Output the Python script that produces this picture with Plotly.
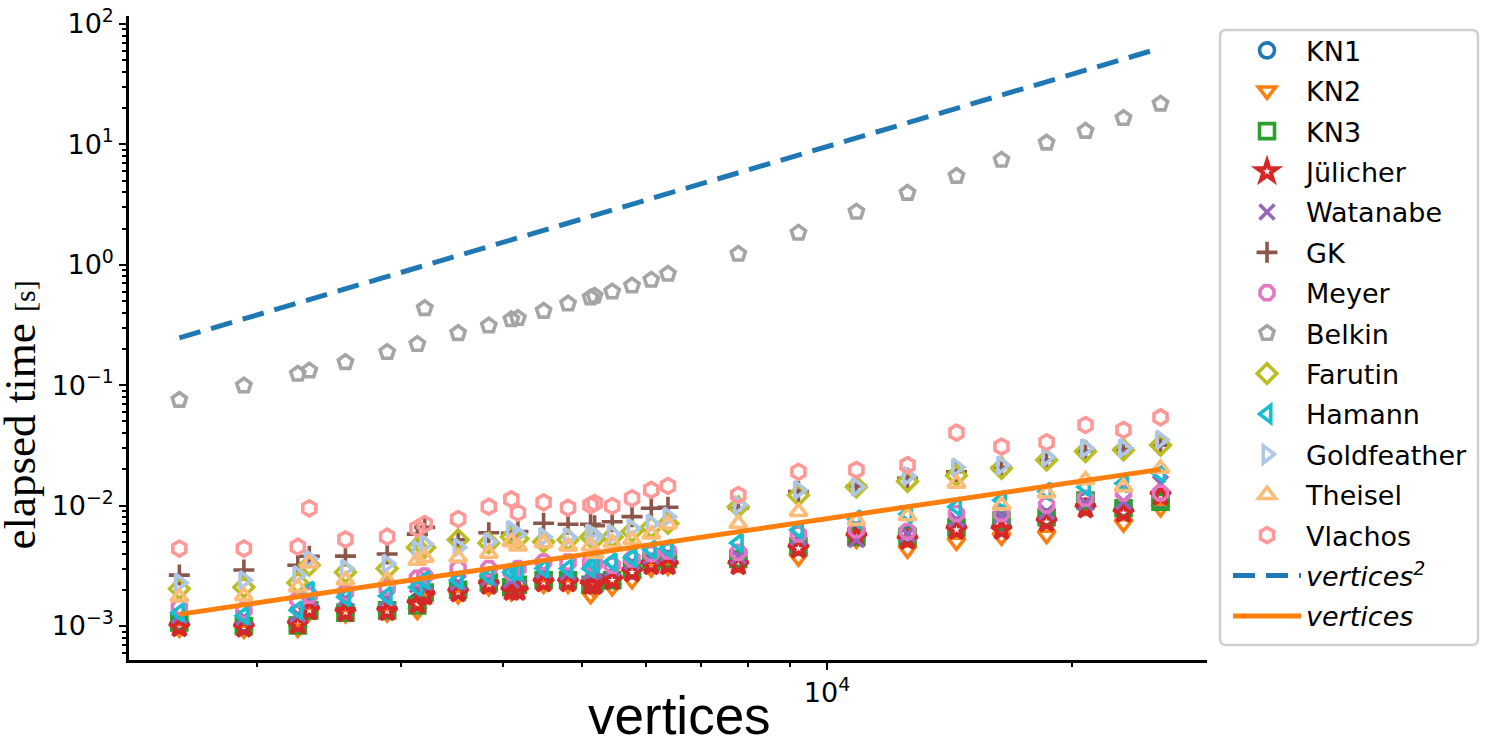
import plotly.graph_objects as go

# ---------------- data ----------------
vertices = [1606, 1927, 2244, 2318, 2567, 2888, 3145, 3211, 3529, 3848,
            4101, 4178, 4492, 4813, 5129, 5188, 5452, 5766, 6088, 6382,
            7784, 9225, 10866, 12553, 14414, 16368, 18590, 20750, 23100, 25645]

kn1 = [0.00108, 0.00105, 0.00105, 0.0014, 0.00135, 0.0014, 0.0016, 0.0019, 0.0020, 0.0023,
       0.0022, 0.0022, 0.0024, 0.0024, 0.0023, 0.0024, 0.0025, 0.0029, 0.0034, 0.0035,
       0.0036, 0.0046, 0.0057, 0.0057, 0.0066, 0.0072, 0.0078, 0.0110, 0.0095, 0.0110]
kn2 = [0.00095, 0.00093, 0.00095, 0.0013, 0.00125, 0.00127, 0.00133, 0.0017, 0.0018, 0.0021,
       0.0019, 0.0020, 0.0022, 0.0022, 0.0018, 0.0020, 0.0021, 0.0024, 0.0030, 0.0031,
       0.0033, 0.0037, 0.0052, 0.0043, 0.0050, 0.0055, 0.0057, 0.0098, 0.0071, 0.0095]
kn3 = [0.00107, 0.0010, 0.00101, 0.00135, 0.00129, 0.00135, 0.00148, 0.0019, 0.0020, 0.0023,
       0.0021, 0.0022, 0.0024, 0.0024, 0.0022, 0.0023, 0.0024, 0.0030, 0.0034, 0.0036,
       0.0036, 0.0046, 0.0055, 0.0055, 0.0066, 0.0075, 0.0080, 0.0110, 0.0095, 0.0108]
julicher = [0.00098, 0.00097, 0.00103, 0.00135, 0.0013, 0.00133, 0.00152, 0.0018, 0.0019, 0.0022,
            0.00196, 0.00196, 0.0023, 0.0023, 0.0022, 0.0022, 0.0024, 0.0028, 0.0032, 0.0032,
            0.0032, 0.0044, 0.0055, 0.0052, 0.0063, 0.0063, 0.0073, 0.0095, 0.0087, 0.0121]
watanabe = [0.00122, 0.00118, 0.00125, 0.0017, 0.0017, 0.0017, 0.0022, 0.0023, 0.0023, 0.0025,
            0.0024, 0.0026, 0.0029, 0.0028, 0.0028, 0.0029, 0.0030, 0.0034, 0.0038, 0.0040,
            0.0038, 0.0054, 0.0052, 0.0058, 0.0077, 0.0082, 0.0089, 0.0105, 0.0108, 0.0153]
gk = [0.00265, 0.00292, 0.0032, 0.0038, 0.00381, 0.00396, 0.0058, 0.0066, 0.00521, 0.00596,
      0.0059, 0.0061, 0.00713, 0.0070, 0.0070, 0.0068, 0.00735, 0.0081, 0.0095, 0.0097,
      0.0095, 0.0131, 0.01456, 0.0169, 0.0191, 0.0208, 0.0239, 0.0284, 0.0293, 0.0318]
meyer = [0.00143, 0.00135, 0.00166, 0.0018, 0.0019, 0.0021, 0.0025, 0.0026, 0.0030, 0.0030,
         0.0028, 0.0030, 0.0034, 0.0034, 0.0034, 0.0033, 0.0032, 0.0036, 0.0040, 0.0042,
         0.0041, 0.0058, 0.0063, 0.0061, 0.0086, 0.0086, 0.0101, 0.0115, 0.0127, 0.0127]
belkin = [0.0753, 0.0991, 0.124, 0.132, 0.155, 0.188, 0.219, 0.435, 0.270, 0.312,
          0.352, 0.360, 0.413, 0.475, 0.533, 0.551, 0.598, 0.670, 0.748, 0.839,
          1.23, 1.84, 2.75, 3.94, 5.46, 7.42, 10.3, 12.9, 16.5, 21.7]
farutin = [0.00204, 0.0021, 0.00229, 0.0032, 0.0028, 0.0030, 0.0045, 0.0045, 0.0052, 0.0049,
           0.0055, 0.0053, 0.0050, 0.0052, 0.0055, 0.0053, 0.0055, 0.0061, 0.0066, 0.0071,
           0.0098, 0.0122, 0.0143, 0.0159, 0.0178, 0.0204, 0.0239, 0.0281, 0.0290, 0.0318]
hamann = [0.00129, 0.00122, 0.00135, 0.00197, 0.00174, 0.00178, 0.0021, 0.0024, 0.0024, 0.0026,
          0.0028, 0.0028, 0.0030, 0.0030, 0.0030, 0.0033, 0.0034, 0.0037, 0.0043, 0.0044,
          0.0049, 0.0063, 0.0077, 0.0085, 0.0098, 0.0111, 0.0131, 0.0143, 0.0153, 0.0185]
goldfeather = [0.00229, 0.00241, 0.00265, 0.0036, 0.0030, 0.0033, 0.0043, 0.0048, 0.0045, 0.0050,
               0.0063, 0.0058, 0.0055, 0.0055, 0.0059, 0.0056, 0.0058, 0.0065, 0.0071, 0.0081,
               0.0101, 0.0135, 0.0143, 0.0176, 0.0208, 0.0216, 0.0253, 0.0300, 0.0300, 0.0353]
theisel = [0.00174, 0.00178, 0.0021, 0.00333, 0.0024, 0.0024, 0.0035, 0.0037, 0.0037, 0.0040,
           0.0050, 0.0046, 0.0049, 0.0046, 0.0046, 0.0040, 0.0049, 0.0052, 0.0058, 0.0070,
           0.0071, 0.0089, 0.0075, 0.0082, 0.0153, 0.0101, 0.0127, 0.0163, 0.0143, 0.0204]
vlachos = [0.0044, 0.0044, 0.00456, 0.0095, 0.00525, 0.00552, 0.00648, 0.00703, 0.00774, 0.0098,
           0.01128, 0.00873, 0.01064, 0.00961, 0.0101, 0.0105, 0.00993, 0.0115, 0.0135, 0.01456,
           0.01225, 0.0191, 0.0198, 0.0217, 0.0404, 0.0309, 0.0336, 0.0467, 0.0425, 0.0541]

# reference scaling lines (end points)
ref_x = [1606, 25645]
ref_quadratic = [0.247, 63.0]
ref_linear = [0.00125, 0.0200]

series_names = ["KN1", "KN2", "KN3", "Jülicher", "Watanabe", "GK", "Meyer", "Belkin",
                "Farutin", "Hamann", "Goldfeather", "Theisel", "Vlachos"]
series_values = [kn1, kn2, kn3, julicher, watanabe, gk, meyer, belkin,
                 farutin, hamann, goldfeather, theisel, vlachos]
series_colors = ["#1f77b4", "#ff7f0e", "#2ca02c", "#d62728", "#9467bd", "#8c564b", "#e377c2",
                 "#a5a5a5", "#bcbd22", "#17becf", "#aec7e8", "#ffbb78", "#ff9896"]
series_symbols = ["circle-open", "triangle-down-open", "square-open", "star-open", "x-thin-open",
                  "cross-thin-open", "octagon-open", "pentagon-open", "diamond-open",
                  "triangle-left-open", "triangle-right-open", "triangle-up-open", "hexagon-open"]
series_edge = [3.6, 3.6, 3.6, 4.0, 3.6, 3.6, 3.6, 3.6, 3.6, 3.6, 3.6, 3.6, 3.6]

x_tick_vals = [10000]
x_tick_text = ["10<sup>4</sup>"]
x_minor_vals = [2000, 3000, 4000, 5000, 6000, 7000, 8000, 9000, 20000]
y_tick_vals = [1e-3, 1e-2, 1e-1, 1e0, 1e1, 1e2]
y_tick_text = ["10<sup>−3</sup>", "10<sup>−2</sup>", "10<sup>−1</sup>",
               "10<sup>0</sup>", "10<sup>1</sup>", "10<sup>2</sup>"]
y_minor_vals = [m * d for d in [1e-4, 1e-3, 1e-2, 1e-1, 1e0, 1e1] for m in range(2, 10)]

# ---------------- figure ----------------
fig = go.Figure()
for i, (name, vals, col, sym, ew) in enumerate(
        zip(series_names, series_values, series_colors, series_symbols, series_edge)):
    fig.add_trace(go.Scatter(
        x=vertices, y=vals, mode="markers", name=name, legendgroup=f"g{i}",
        marker=dict(symbol=sym, size=15, color=col, line=dict(color=col, width=ew)),
    ))

fig.add_trace(go.Scatter(x=ref_x, y=ref_quadratic, mode="lines",
                         name="<i>vertices<sup>2</sup></i>", legendgroup="g13",
                         line=dict(color="#1f77b4", width=5, dash="22px,11px")))
fig.add_trace(go.Scatter(x=ref_x, y=ref_linear, mode="lines",
                         name="<i>vertices</i>", legendgroup="g14",
                         line=dict(color="#ff7f0e", width=5)))

axis_common = dict(showline=True, linecolor="black", linewidth=2.5, mirror=False,
                   ticks="outside", ticklen=7, tickwidth=2, tickcolor="black",
                   showgrid=False, zeroline=False, automargin=False,
                   ticklabeloverflow="allow",
                   tickfont=dict(family="DejaVu Sans", size=27, color="black"))

fig.update_xaxes(type="log", range=[3.144, 4.466], tickmode="array",
                 tickvals=x_tick_vals, ticktext=x_tick_text,
                 minor=dict(tickmode="array", tickvals=x_minor_vals, ticks="outside",
                            ticklen=4, tickwidth=1.5, tickcolor="black", showgrid=False),
                 **axis_common)
fig.update_yaxes(type="log", range=[-3.282, 2.066], tickmode="array",
                 tickvals=y_tick_vals, ticktext=y_tick_text,
                 minor=dict(tickmode="array", tickvals=y_minor_vals, ticks="outside",
                            ticklen=4, tickwidth=1.5, tickcolor="black", showgrid=False),
                 **axis_common)

# legend frame (rounded box) in paper coordinates
bx0, bx1, by0, by1 = 1.0121, 1.2514, 0.0233, 0.9783
rx, ry = 0.0056, 0.0093
frame_path = (f"M {bx0+rx},{by0} L {bx1-rx},{by0} Q {bx1},{by0} {bx1},{by0+ry} "
              f"L {bx1},{by1-ry} Q {bx1},{by1} {bx1-rx},{by1} L {bx0+rx},{by1} "
              f"Q {bx0},{by1} {bx0},{by1-ry} L {bx0},{by0+ry} Q {bx0},{by0} {bx0+rx},{by0} Z")

fig.update_layout(
    width=1493, height=749,
    margin=dict(l=129, r=286, t=16, b=89),
    paper_bgcolor="white", plot_bgcolor="white",
    font=dict(family="DejaVu Sans", color="black"),
    showlegend=True,
    legend=dict(x=1.0195, y=0.984, xanchor="left", yanchor="top",
                borderwidth=0, bgcolor="rgba(0,0,0,0)",
                font=dict(family="DejaVu Sans", size=27, color="black"),
                itemwidth=68, tracegroupgap=2.3),
    shapes=[dict(type="path", path=frame_path, xref="paper", yref="paper",
                 line=dict(color="#d0d0d0", width=2.5), fillcolor="white", layer="below")],
    annotations=[
        dict(text="elapsed time <span style='font-size:30px'>[s]</span>",
             xref="paper", yref="paper", x=-0.101, y=0.38, textangle=-90,
             showarrow=False, xanchor="center", yanchor="middle",
             font=dict(family="Liberation Serif", size=45, color="black")),
        dict(text="vertices", xref="paper", yref="paper", x=0.511, y=-0.135,
             showarrow=False, xanchor="center", yanchor="bottom",
             font=dict(family="Liberation Sans", size=53, color="black")),
    ],
)

fig.write_html("out.html", config={"displayModeBar": False},
               post_script="document.body.style.margin='0';")
